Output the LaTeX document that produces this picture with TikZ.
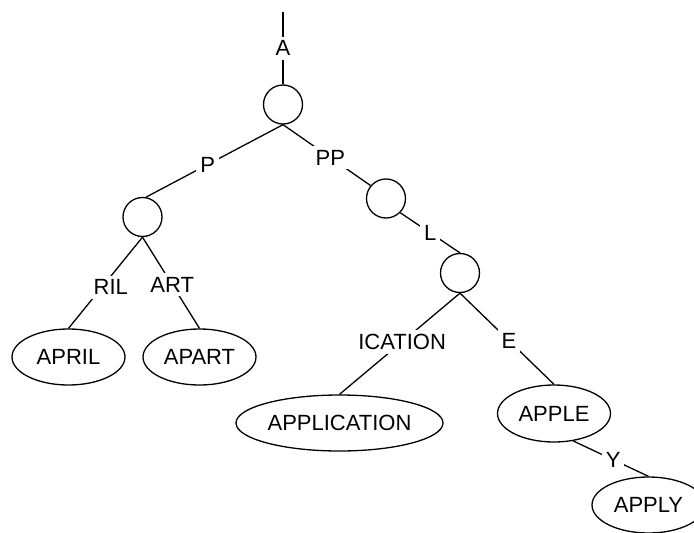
\documentclass[tikz,border=0pt]{standalone}
\usepackage{fontspec}
\setmainfont{Liberation Sans}
\usetikzlibrary{shapes.geometric}

\begin{document}
\begin{tikzpicture}[x=1pt, y=-1pt,
                    branch/.style = {circle, draw, minimum size=39pt, inner sep=0pt},
                    word/.style = {ellipse, draw, minimum width=113pt, minimum height=56pt, inner sep=0pt},
                    letters/.style = {fill=white, inner sep=4pt},
                    line width=1.3pt, font=\fontsize{22pt}{26pt}\selectfont]
  \useasboundingbox (0, 0) rectangle (694, 533);

  % Branch points.
  \coordinate (Top) at (283, 12);
  \node at (283, 104.5) [branch, name=Root] {};
  \node at (142.5, 217) [branch, name=Ap] {};
  \node at (386, 198.5) [branch, name=App] {};
  \node at (460, 273) [branch, name=Appl] {};

  % Words.
  \node at (68.5, 357) [word, name=April] {APRIL};
  \node at (199.5, 357) [word, name=Apart] {APART};
  \node at (339.5, 423) [word, minimum width=207pt, name=Application] {APPLICATION};
  \node at (554, 413.5) [word, minimum height=57pt, name=Apple] {APPLE};
  \node at (648.5, 505) [word, name=Apply] {APPLY};

  % Edges from the root.
  \draw (Top)
        to node [letters] {A}
        (Root.north);
  \draw (Root.south)
        to node [letters, pos=0.55] {P}
        (Ap.80);
  \draw (Root.south)
        to node [letters, pos=0.54] {PP}
        (App.140);

  % AP branch.
  \draw (Ap.south)
        to node [letters, pos=0.55, xshift=9pt] {RIL}
        (April.north);
  \draw (Ap.south)
        to node [letters, pos=0.52] {ART}
        (Apart.north);

  % APP branch.
  \draw (App.-45)
        to node [letters] {L}
        (Appl.north);
  \draw (Appl.south)
        to node [letters, pos=0.48] {ICATION}
        (Application.north);
  \draw (Appl.south)
        to node [letters, pos=0.52] {E}
        (Apple.north);
  \draw (Apple.-55)
        to node [letters, pos=0.53] {Y}
        (Apply.north);
\end{tikzpicture}
\end{document}
